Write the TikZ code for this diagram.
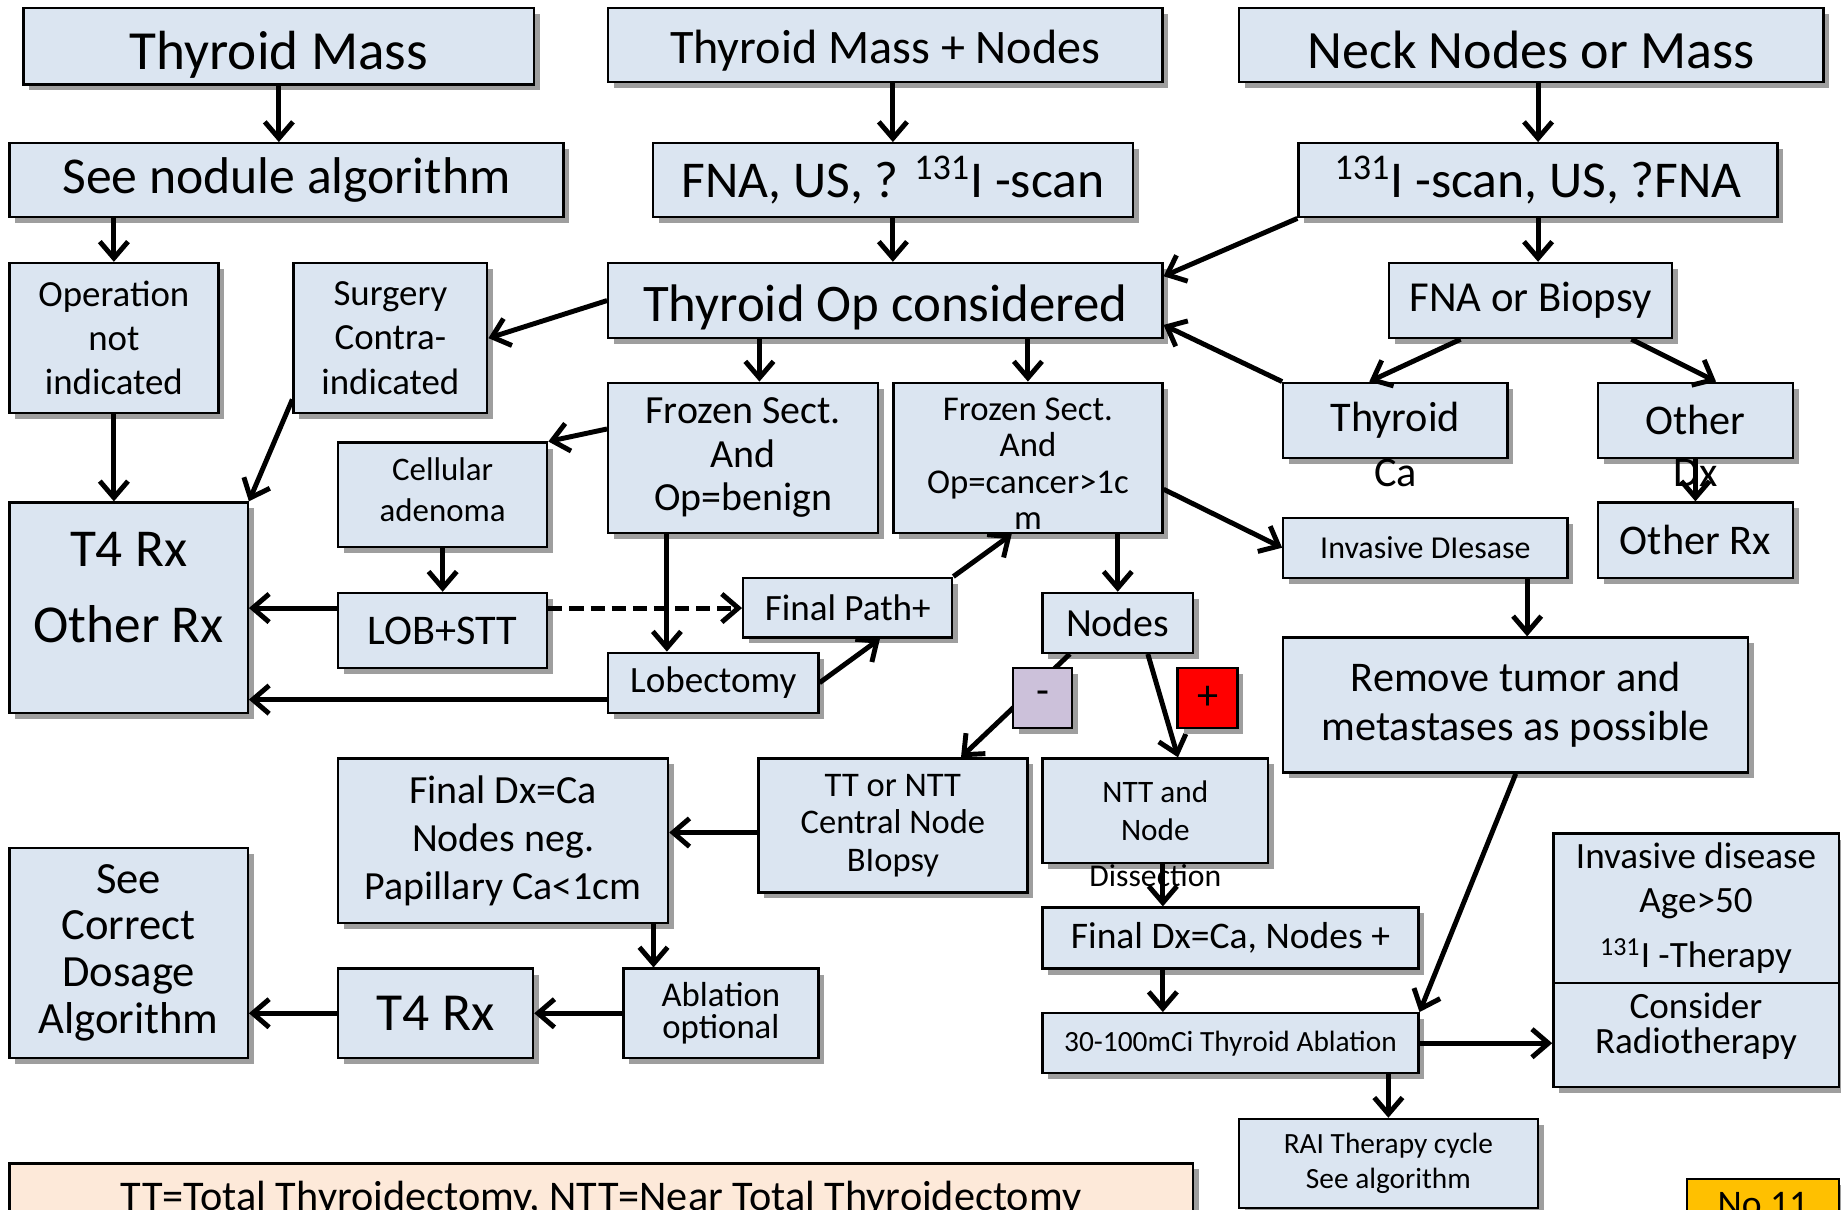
\documentclass[tikz,border=0pt]{standalone}
\usepackage{fontspec}
\setmainfont{Carlito}
\usetikzlibrary{positioning,shadows,arrows.meta}
\definecolor{boxblue}{HTML}{DBE5F1}
\definecolor{peach}{HTML}{FDE9D9}
\definecolor{noorange}{HTML}{FFC000}
\definecolor{lilac}{HTML}{CCC1DA}
\newcommand{\fz}[2]{\fontsize{#1}{#2}\selectfont}

\begin{document}
\begin{tikzpicture}[x=0.5pt, y=-0.5pt,
		b/.style={rectangle, draw, line width=1pt, fill=boxblue, inner sep=0pt, align=center, drop shadow={shadow xshift=2.5pt, shadow yshift=-2.5pt, fill=black!38, opacity=1}},
		sz/.style 2 args={minimum width=#1*0.5pt, minimum height=#2*0.5pt},
		dn/.style={text height=#1, text depth=4.5pt},
		l/.style={inner sep=0pt},
		a/.style={-{Straight Barb[length=7pt, width=12pt]}, line width=2.1pt}]
		\useasboundingbox (0,0) rectangle (1568,1030);
		\clip (0,0) rectangle (1568,1030);

		\node[b, sz={435}{65}, dn=24.5pt, font=\fz{23.5}{28}] (tm) at (237.5,39.5) {Thyroid Mass};
		\node[b, sz={472}{63}, dn=20pt, font=\fz{20.5}{25}] (tmn) at (754,38.5) {Thyroid Mass + Nodes};
		\node[b, sz={498}{63}, dn=24pt, font=\fz{23}{27}] (nnm) at (1304,38.5) {Neck Nodes or Mass};
		\node[b, sz={472}{63}, font=\fz{22}{26}] (sna) at (244,153.5) {See nodule algorithm};
		\node[b, sz={409}{63}, font=\fz{22}{26}] (fna) at (760.5,153.5) {FNA, US, ? \textsuperscript{131}I -scan};
		\node[b, sz={408}{63}, font=\fz{22}{26}] (iscan) at (1310,153.5) {\textsuperscript{131}I -scan, US, ?FNA};
		\node[b, sz={178}{128}, font=\fz{15.7}{18.75}] (opni) at (97,288) {Operation\\not\\indicated};
		\node[b, sz={165}{128}, font=\fz{15.7}{18.75}] (scon) at (332.5,288) {Surgery\\Contra-\\indicated};
		\node[b, sz={472}{64}, dn=22.5pt, font=\fz{22.5}{27}] (topc) at (754,256) {Thyroid Op considered};
		\node[b, sz={241}{64}, font=\fz{18.2}{22}] (fob) at (1303.5,256) {FNA or Biopsy};
		\node[b, sz={230}{128}, font=\fz{17}{18.5}] (fsb) at (633,390) {Frozen Sect.\\And\\Op=benign};
		\node[b, sz={229}{128}, font=\fz{14.8}{15.5}] (fsc) at (875.5,390) {\mbox{}\\[-1pt]Frozen Sect.\\And\\Op=cancer>1c\\m};
		\node[b, sz={191}{64}, font=\fz{18}{22}] (thy) at (1188.5,358) {Thyroid};
		\node[l, below=0pt of thy, font=\fz{18}{22}] (thy_ca) {Ca};
		\node[b, sz={166}{64}, font=\fz{18}{22}] (oth) at (1444,358) {Other};
		\node[l, below=0pt of oth, font=\fz{18}{22}] (oth_dx) {Dx};
		\node[b, sz={178}{89}, font=\fz{14}{17.5}] (cad) at (377,421.5) {Cellular\\adenoma\\[-13pt]\mbox{}};
		\node[b, sz={203}{179}, font=\fz{22.7}{32.5}] (t4o) at (109.5,517.5) {T4 Rx\\Other Rx\\[-15.5pt]\mbox{}};
		\node[b, sz={242}{51}, font=\fz{13.6}{16}] (invd) at (1214,466.5) {Invasive DIesase};
		\node[b, sz={166}{64}, font=\fz{18}{22}] (othrx) at (1444,460) {Other Rx};
		\node[b, sz={178}{64}, font=\fz{18}{22}] (lob) at (377,537) {LOB+STT};
		\node[b, sz={178}{51}, font=\fz{15.8}{19}] (fpath) at (722,517.5) {Final Path+};
		\node[b, sz={128}{51}, font=\fz{17}{20}] (nodes) at (952,530.5) {Nodes};
		\node[b, sz={179}{51}, font=\fz{15.8}{19}] (lobec) at (607.5,581.5) {Lobectomy};
		\node[b, sz={396}{115}, font=\fz{18}{21}] (rem) at (1291,600.5) {Remove tumor and\\metastases as possible};
		\node[b, sz={281}{140}, font=\fz{17}{20.5}] (fdn) at (428.5,716) {Final Dx=Ca\\Nodes neg.\\Papillary Ca<1cm};
		\node[b, sz={229}{114}, font=\fz{14.7}{16}] (ttn) at (760.5,703) {TT or NTT\\Central Node\\BIopsy};
		\node[b, sz={192}{89}, font=\fz{13.3}{16.5}] (ntt) at (984,690.5) {NTT and\\Node};
		\node[l, below=0pt of ntt, font=\fz{13.5}{16}] (ntt_dis) {Dissection};
		\node[b, sz={243}{127}, font=\fz{15.8}{18.5}] (ida) at (1444.5,773.5) {Invasive disease\\Age>50\\[5pt]\textsuperscript{131}I -Therapy};
		\node[b, sz={243}{89}, font=\fz{15.8}{15}] (crt) at (1444.5,881.5) {Consider\\Radiotherapy\\[-5pt]\mbox{}};
		\node[b, sz={203}{179}, font=\fz{19}{20}] (scd) at (109.5,811.5) {See\\Correct\\Dosage\\Algorithm};
		\node[b, sz={320}{52}, font=\fz{16}{19}] (fdp) at (1048,799) {Final Dx=Ca, Nodes +};
		\node[b, sz={166}{76}, font=\fz{22.8}{27}] (t4) at (371,863) {T4 Rx};
		\node[b, sz={166}{76}, font=\fz{14.8}{14}] (abl) at (614,863) {Ablation\\optional};
		\node[b, sz={320}{51}, font=\fz{12.5}{15}] (abl30) at (1048,888.5) {30-100mCi Thyroid Ablation};
		\node[b, sz={255}{76}, font=\fz{12.5}{15}] (rai) at (1182.5,991) {RAI Therapy cycle\\See algorithm};
		\node[b, sz={1008}{60}, fill=peach, font=\fz{18}{22}] (foot) at (512,1021) {TT=Total Thyroidectomy, NTT=Near Total Thyroidectomy};
		\node[b, sz={129}{44}, fill=noorange, font=\fz{16}{19}] (no) at (1501.5,1026) {No 11};

		\draw[a] (tm.south) -- (tm.south |- sna.north);
		\draw[a] (opni.north |- sna.south) -- (opni.north);
		\draw[a] (opni.south) -- (opni.south |- t4o.north);
		\draw[a] (scon.212) -- (t4o.north east);
		\draw[a] (topc.west) -- (scon.east);
		\draw[a] (fna.north |- tmn.south) -- (fna.north);
		\draw[a] (fna.south) -- (fna.south |- topc.north);
		\draw[a] (fsb.78 |- topc.south) -- (fsb.78);
		\draw[a] (fsc.north |- topc.south) -- (fsc.north);
		\draw[a] (iscan.south west) -- (topc.5);
		\draw[a] (thy.north west) -- (topc.-5);
		\draw[a] (iscan.north |- nnm.south) -- (iscan.north);
		\draw[a] (iscan.south) -- (iscan.south |- fob.north);
		\draw[a] (fob.209) -- (thy.124);
		\draw[a] (fob.-21) -- (oth.62);
		\draw[a] (oth.south) -- (othrx.north);
		\draw[a] (fsb.168) -- (cad.north east);
		\draw[a] (cad.south) -- (lob.north);
		\draw[a] (lob.168) -- (lob.168 -| t4o.east);
		\draw[a, dash pattern=on 6pt off 3pt] (lob.12) -- (lob.12 -| fpath.west);
		\draw[a] (fsb.225) -- (fsb.225 |- lobec.north);
		\draw[a] (lobec.189) -- (lobec.189 -| t4o.east);
		\draw[a] (lobec.east) -- (fpath.-44);
		\draw[a] (fpath.north east) -- (fsc.258);
		\draw[a] (fsc.-13) -- (invd.west);
		\draw[a] (nodes.north |- fsc.south) -- (nodes.north);
		\draw[a] (nodes.213) -- (ttn.45);
		\draw[a] (nodes.-46) -- (ntt.67);
		\draw[a] (invd.-17) -- (invd.-17 |- rem.north);
		\draw[a] (rem.south) -- (abl30.north east);
		\draw[a] (ttn.183) -- (ttn.183 -| fdn.east);
		\draw[a] (fdn.-29) -- (fdn.-29 |- abl.north);
		\draw[a] (abl.west) -- (t4.east);
		\draw[a] (t4.west) -- (t4.west -| scd.east);
		\draw[a] (ntt.-82) -- (ntt.-82 |- fdp.north);
		\draw[a] (ntt.-82 |- fdp.south) -- (ntt.-82 |- abl30.north);
		\draw[a] (abl30.east) -- (abl30.east -| crt.west);
		\draw[a] (rai.north |- abl30.south) -- (rai.north);

		\node[b, sz={50}{51}, fill=lilac, font=\fz{18}{22}] (neg) at (888,594.5) {-};
		\node[b, sz={51}{51}, fill=red, font=\fz{18}{22}] (pos) at (1028.5,594.5) {+};
	\end{tikzpicture}
\end{document}
